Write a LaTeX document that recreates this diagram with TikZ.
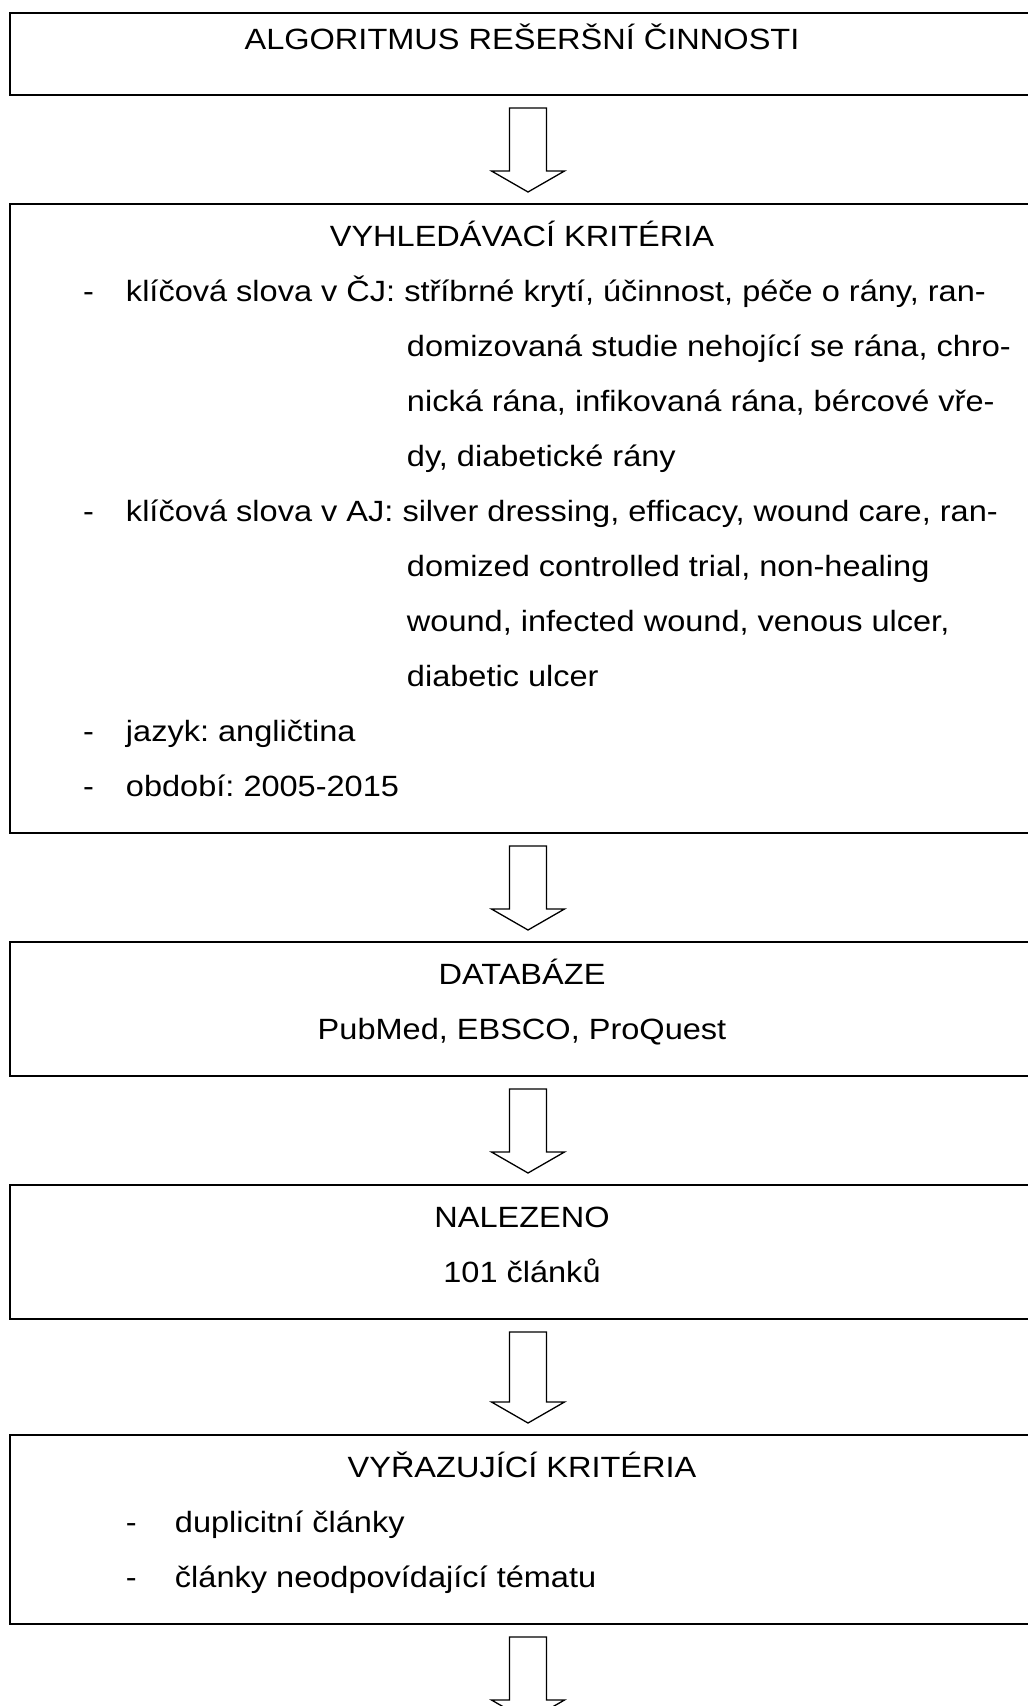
\documentclass[tikz,border=0pt]{standalone}
\usepackage{fontspec}
\setmainfont{Liberation Sans}[FakeStretch=1.11]
\usetikzlibrary{positioning,calc}

% hollow block arrow between two boxes
\newcommand{\blockarrow}[2]{%
  \draw[arrow line] ($(#1.south)+(-12.5pt,-12pt)$) -- ($(#2.north)+(-12.5pt,32pt)$)
    -- ($(#2.north)+(-30.5pt,32pt)$) -- ($(#2.north)+(6pt,11pt)$)
    -- ($(#2.north)+(42.5pt,32pt)$) -- ($(#2.north)+(24.5pt,32pt)$)
    -- ($(#1.south)+(24.5pt,-12pt)$) -- cycle;}
\newcommand{\firstln}{\rule{0pt}{42pt}}
\newcommand{\lastln}{\rule[-37pt]{0pt}{37pt}}
\newcommand{\dashln}[2]{\hspace*{#1}\makebox[#2][l]{-}}
\newcommand{\contln}{\hspace*{397pt}}

\begin{document}
\frenchspacing
\begin{tikzpicture}[x=1pt,y=1pt,node distance=107pt,
  box node/.style={rectangle,draw,line width=2pt,inner sep=0pt,anchor=north,
    font=\fontsize{29.3pt}{55pt}\selectfont},
  arrow line/.style={draw,line width=1.3pt,line join=miter}]

  \useasboundingbox (0,0) rectangle (1028,-1706);

  \node[box node] (1) at (522,-12) {\parbox{1024pt}{\makebox[\linewidth]{\rule{0pt}{36pt}ALGORITMUS REŠERŠNÍ ČINNOSTI\rule[-46pt]{0pt}{46pt}}}};

  \node[box node] (2) [below=of 1] {\parbox{1024pt}{%
    \makebox[\linewidth]{\firstln VYHLEDÁVACÍ KRITÉRIA}\\
    \dashln{73pt}{43pt}klíčová slova v ČJ: stříbrné krytí, účinnost, péče o rány, ran-\\
    \contln domizovaná studie nehojící se rána, chro-\\
    \contln nická rána, infikovaná rána, bércové vře-\\
    \contln dy, diabetické rány\\
    \dashln{73pt}{43pt}klíčová slova v AJ: silver dressing, efficacy, wound care, ran-\\
    \contln domized controlled trial, non-healing\\
    \contln wound, infected wound, venous ulcer,\\
    \contln diabetic ulcer\\
    \dashln{73pt}{43pt}jazyk: angličtina\\
    \dashln{73pt}{43pt}období: 2005-2015\lastln}};

  \node[box node] (3) [below=of 2] {\parbox{1024pt}{%
    \makebox[\linewidth]{\firstln DATABÁZE}\\
    \makebox[\linewidth]{PubMed, EBSCO, ProQuest\lastln}}};

  \node[box node] (4) [below=of 3] {\parbox{1024pt}{%
    \makebox[\linewidth]{\firstln NALEZENO}\\
    \makebox[\linewidth]{101 článků\lastln}}};

  \node[box node] (5) [below=114pt of 4] {\parbox{1024pt}{%
    \makebox[\linewidth]{\firstln VYŘAZUJÍCÍ KRITÉRIA}\\
    \dashln{116pt}{49pt}duplicitní články\\
    \dashln{116pt}{49pt}články neodpovídající tématu\lastln}};

  \coordinate[below=of 5] (6);

  \blockarrow{1}{2}
  \blockarrow{2}{3}
  \blockarrow{3}{4}
  \blockarrow{4}{5}
  \blockarrow{5}{6}
\end{tikzpicture}
\end{document}
